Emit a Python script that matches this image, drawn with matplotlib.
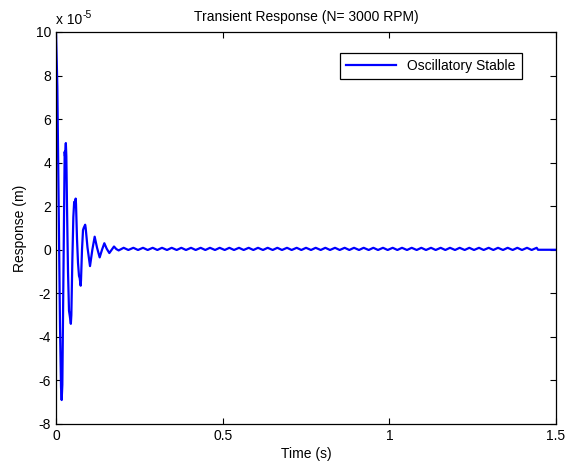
import matplotlib.pyplot as plt
import numpy as np

plt.rcParams['font.family'] = ['Liberation Sans', 'DejaVu Sans']
plt.rcParams['font.size'] = 10
plt.rcParams['axes.unicode_minus'] = False

# transient part: time (s) and response (x 1e-5 m)
t_start = [0.000, 0.004, 0.008, 0.012, 0.015, 0.017, 0.019, 0.022, 0.025, 0.026,
           0.027, 0.0295, 0.031, 0.033, 0.036, 0.039, 0.041, 0.0445, 0.046, 0.049,
           0.052, 0.0545, 0.056, 0.059, 0.060, 0.063, 0.066, 0.069, 0.071, 0.074,
           0.075, 0.078, 0.081, 0.083, 0.0875, 0.089, 0.0945, 0.102, 0.109, 0.116,
           0.123, 0.131, 0.138, 0.145, 0.152, 0.160, 0.167, 0.174, 0.181, 0.188]
y_start = [10.0, 7.5, 2.0, -3.5, -6.3, -6.9, -6.2, -1.5, 3.0, 4.5,
           4.3, 4.9, 4.3, 2.0, -1.0, -2.8, -3.0, -3.4, -3.0, -0.5,
           1.5, 2.2, 2.0, 2.35, 2.1, 0.5, -0.6, -1.2, -1.3, -1.65,
           -1.4, 0.0, 0.9, 1.0, 1.15, 1.0, 0.1, -0.75, 0.0, 0.6,
           0.1, -0.35, 0.0, 0.3, 0.05, -0.15, 0.0, 0.15, 0.03, -0.03]

# small residual ripple
ripple_peak_t = [0.203, 0.232, 0.261, 0.290, 0.318, 0.347, 0.376, 0.405, 0.434, 0.462,
                 0.491, 0.520, 0.549, 0.578, 0.606, 0.635, 0.664, 0.693, 0.722, 0.750,
                 0.779, 0.808, 0.837, 0.866, 0.894, 0.923, 0.952, 0.981, 1.010, 1.038,
                 1.067, 1.096, 1.125, 1.154, 1.182, 1.211, 1.240, 1.269, 1.298, 1.326,
                 1.355, 1.384, 1.413, 1.442]
ripple_trough_t = [0.217, 0.246, 0.275, 0.304, 0.333, 0.362, 0.390, 0.419, 0.448, 0.477,
                   0.506, 0.534, 0.563, 0.592, 0.621, 0.650, 0.678, 0.707, 0.736, 0.765,
                   0.794, 0.822, 0.851, 0.880, 0.909, 0.938, 0.966, 0.995, 1.024, 1.053,
                   1.082, 1.110, 1.139, 1.168, 1.197, 1.226, 1.254, 1.283, 1.312, 1.341,
                   1.370, 1.398, 1.427]
ripple_hi = 0.09
ripple_lo = -0.01

t_end = [1.446, 1.5]
y_end = [0.0, 0.0]

t_rip, y_rip = [], []
for i, tp in enumerate(ripple_peak_t):
    t_rip.append(tp); y_rip.append(ripple_hi)
    if i < len(ripple_trough_t):
        t_rip.append(ripple_trough_t[i]); y_rip.append(ripple_lo)

t = np.array(t_start + t_rip + t_end)
y = np.array(y_start + y_rip + y_end)

fig = plt.figure(figsize=(5.68, 4.65), dpi=100)
ax = fig.add_axes([0.0986, 0.0882, 0.8803, 0.8430])
ax.plot(t, y, color='#0000ff', lw=1.6, label='Oscillatory Stable')

ax.set_xlim(0, 1.5)
ax.set_ylim(-8, 10)
ax.set_xticks([0, 0.5, 1, 1.5])
ax.set_xticklabels(['0', '0.5', '1', '1.5'])
ax.set_yticks(np.arange(-8, 11, 2))
ax.set_yticklabels([str(v) for v in range(-8, 11, 2)])
ax.tick_params(direction='in', top=True, right=True, length=4, width=0.8,
               labelsize=10, colors='black')
for s in ax.spines.values():
    s.set_linewidth(0.9)

ax.set_title('Transient Response (N= 3000 RPM)', fontsize=10, pad=8)
ax.set_xlabel('Time (s)', fontsize=10, labelpad=3)
ax.set_ylabel('Response (m)', fontsize=10, labelpad=6)

# scale factor above the y axis
ax.text(0.0, 1.012, 'x 10', transform=ax.transAxes,
        ha='left', va='bottom', fontsize=10)
ax.text(0.054, 1.030, '-5', transform=ax.transAxes,
        ha='left', va='bottom', fontsize=7.5)

leg = ax.legend(loc='upper right', bbox_to_anchor=(0.945, 0.965), fancybox=False,
                framealpha=1, edgecolor='black', fontsize=10, handlelength=3.6,
                borderpad=0.45)
leg.get_frame().set_linewidth(0.9)

fig.savefig('out.png', dpi=100)
